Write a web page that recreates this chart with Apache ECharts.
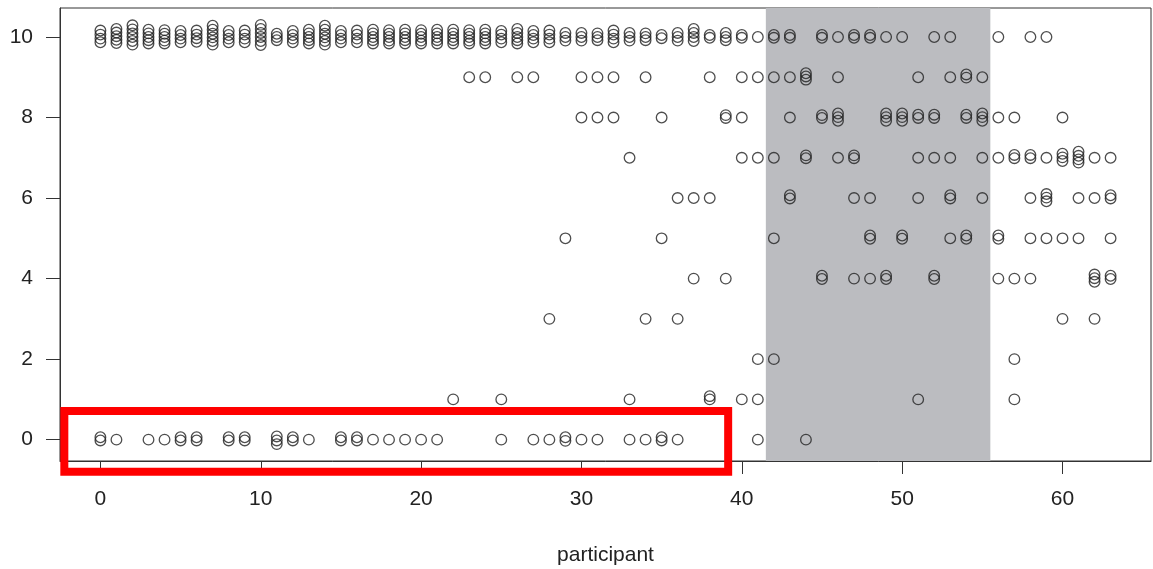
<!DOCTYPE html>
<html>
<head>
<meta charset="utf-8">
<script src="https://cdn.jsdelivr.net/npm/echarts@6/dist/echarts.min.js"></script>
<style>
html,body{margin:0;padding:0;background:#fff;}
#c{width:1153px;height:569px;}
</style>
</head>
<body>
<div id="c"></div>
<script>
// ---- data ----
const xTicks = [0, 10, 20, 30, 40, 50, 60];
const yTicks = [0, 2, 4, 6, 8, 10];
const xLabel = 'participant';
const participants = [0,1,2,3,4,5,6,7,8,9,10,11,12,13,14,15,16,17,18,19,20,21,22,23,24,25,26,27,28,29,30,31,
  32,33,34,35,36,37,38,39,40,41,42,43,44,45,46,47,48,49,50,51,52,53,54,55,56,57,58,59,60,61,62,63];
// jittered responses per participant (six each)
const responses = [
  [0.06, -0.02, 10.16, 10.06, 9.96, 9.87],
  [0.0, 10.2, 10.11, 10.02, 9.93, 9.85],
  [10.29, 10.19, 10.09, 10.0, 9.9, 9.81],
  [0.0, 10.18, 10.09, 10.0, 9.92, 9.84],
  [0.0, 10.17, 10.08, 10.0, 9.91, 9.84],
  [0.06, -0.02, 10.15, 10.05, 9.96, 9.87],
  [0.06, -0.02, 10.16, 10.06, 9.97, 9.88],
  [10.28, 10.18, 10.08, 9.99, 9.9, 9.81],
  [0.06, -0.02, 10.15, 10.05, 9.96, 9.87],
  [0.06, -0.02, 10.16, 10.06, 9.96, 9.87],
  [10.3, 10.2, 10.1, 10.0, 9.9, 9.8],
  [0.08, -0.02, -0.11, 10.08, 10.0, 9.92],
  [0.06, -0.02, 10.15, 10.05, 9.96, 9.87],
  [0.0, 10.18, 10.09, 10.0, 9.92, 9.84],
  [10.28, 10.18, 10.08, 9.99, 9.9, 9.81],
  [0.06, -0.02, 10.15, 10.05, 9.96, 9.87],
  [0.06, -0.02, 10.16, 10.06, 9.96, 9.87],
  [0.0, 10.18, 10.09, 10.0, 9.92, 9.84],
  [0.0, 10.17, 10.08, 10.0, 9.91, 9.84],
  [0.0, 10.18, 10.09, 10.0, 9.92, 9.84],
  [0.0, 10.17, 10.08, 10.0, 9.91, 9.84],
  [0.0, 10.18, 10.09, 10.0, 9.92, 9.84],
  [1.0, 10.18, 10.09, 10.0, 9.92, 9.84],
  [9.0, 10.17, 10.08, 10.0, 9.91, 9.84],
  [9.0, 10.18, 10.09, 10.0, 9.92, 9.84],
  [1.0, 0.0, 10.15, 10.06, 9.96, 9.87],
  [9.0, 10.2, 10.1, 10.0, 9.92, 9.84],
  [9.0, 0.0, 10.15, 10.05, 9.96, 9.87],
  [3.0, 0.0, 10.16, 10.06, 9.96, 9.87],
  [5.0, 0.06, -0.03, 10.1, 10.0, 9.91],
  [9.0, 8.0, 0.0, 10.1, 10.0, 9.91],
  [9.0, 8.0, 0.0, 10.09, 10.0, 9.92],
  [9.0, 8.0, 10.16, 10.06, 9.96, 9.87],
  [7.0, 1.0, 0.0, 10.1, 10.0, 9.91],
  [9.0, 3.0, 0.0, 10.09, 10.0, 9.92],
  [8.0, 5.0, 0.06, -0.02, 10.05, 9.97],
  [6.0, 3.0, 0.0, 10.1, 10.0, 9.91],
  [6.0, 4.0, 10.2, 10.1, 10.0, 9.9],
  [9.0, 6.0, 1.08, 1.0, 10.05, 9.98],
  [8.06, 7.99, 4.0, 10.1, 10.0, 9.92],
  [9.0, 8.0, 7.0, 1.0, 10.05, 9.98],
  [9.0, 7.0, 2.0, 1.0, 0.0, 10.0],
  [9.0, 7.0, 5.0, 2.0, 10.05, 9.98],
  [9.0, 8.0, 6.07, 5.99, 10.05, 9.98],
  [9.1, 9.02, 8.94, 7.06, 6.99, 0.0],
  [8.06, 7.99, 4.07, 3.99, 10.05, 9.98],
  [9.0, 8.1, 8.01, 7.92, 7.0, 10.0],
  [7.06, 6.99, 6.0, 4.0, 10.05, 9.98],
  [6.0, 5.07, 4.99, 4.0, 10.05, 9.98],
  [8.1, 8.01, 7.92, 4.07, 3.99, 10.0],
  [8.1, 8.01, 7.92, 5.07, 4.99, 10.0],
  [9.0, 8.07, 7.99, 7.0, 6.0, 1.0],
  [8.07, 7.99, 7.0, 4.07, 3.99, 10.0],
  [9.0, 7.0, 6.07, 5.99, 5.0, 10.0],
  [9.07, 8.99, 8.07, 7.99, 5.07, 4.99],
  [9.0, 8.1, 8.01, 7.92, 7.0, 6.0],
  [8.0, 7.0, 5.07, 4.99, 4.0, 10.0],
  [8.0, 7.07, 6.99, 4.0, 2.0, 1.0],
  [7.07, 6.99, 6.0, 5.0, 4.0, 10.0],
  [7.0, 6.1, 6.01, 5.92, 5.0, 10.0],
  [8.0, 7.1, 7.01, 6.92, 5.0, 3.0],
  [7.15, 7.05, 6.96, 6.88, 6.0, 5.0],
  [7.0, 6.0, 4.1, 4.01, 3.92, 3.0],
  [7.0, 6.07, 5.99, 5.0, 4.07, 3.99]
];
// shaded participant range
const shadedRange = [41.5, 55.5];
// highlighted region: [xLeft, yBottom, xRight, yTop]
const highlightBox = [-2.25, -0.8, 39.15, 0.71];
// axis limits
const xLimits = [-2.52, 65.52];
const yLimits = [-0.53, 10.72];

// ---- chart ----
const points = [];
participants.forEach((p, i) => responses[i].forEach(v => points.push([p, v])));

const FONT = 'Liberation Sans, Arial, Helvetica, sans-serif';
const INK = '#222';
const chart = echarts.init(document.getElementById('c'), null, {renderer: 'canvas'});
chart.setOption({
  animation: false,
  grid: {left: 60, right: 2, top: 8, bottom: 108, outerBoundsMode: 'none', containLabel: false,
    show: true, borderColor: '#333', borderWidth: 1, backgroundColor: 'transparent'},
  xAxis: {
    type: 'value', min: xLimits[0], max: xLimits[1],
    name: xLabel, nameLocation: 'middle', nameGap: 84,
    nameTextStyle: {fontSize: 21, color: INK, fontFamily: FONT},
    axisLine: {show: true, onZero: false, lineStyle: {color: '#333', width: 1}},
    axisTick: {show: true, length: 13, customValues: xTicks, lineStyle: {color: '#333', width: 1}},
    axisLabel: {customValues: xTicks, margin: 28, fontSize: 21, color: INK, fontFamily: FONT},
    splitLine: {show: false}
  },
  yAxis: {
    type: 'value', min: yLimits[0], max: yLimits[1],
    axisLine: {show: true, onZero: false, lineStyle: {color: '#333', width: 1}},
    axisTick: {show: true, length: 14, customValues: yTicks, lineStyle: {color: '#333', width: 1}},
    axisLabel: {customValues: yTicks, margin: 27, fontSize: 21, color: INK, fontFamily: FONT},
    splitLine: {show: false}
  },
  series: [
    {
      type: 'scatter', data: [], z: -1, silent: true,
      markArea: {silent: true, itemStyle: {color: '#BBBCC0'},
        data: [[{xAxis: shadedRange[0]}, {xAxis: shadedRange[1]}]]}
    },
    {
      type: 'scatter', data: points, symbol: 'circle', symbolSize: 10.6, z: 3, silent: true,
      itemStyle: {color: 'rgba(0,0,0,0)', borderColor: INK, borderWidth: 1.3}
    },
    {
      type: 'custom', z: 5, clip: false, silent: true,
      data: [highlightBox],
      encode: {x: [0, 2], y: [1, 3]},
      renderItem: function (params, api) {
        const a = api.coord([api.value(0), api.value(3)]);
        const b = api.coord([api.value(2), api.value(1)]);
        return {type: 'rect', shape: {x: a[0], y: a[1], width: b[0] - a[0], height: b[1] - a[1]},
          style: {fill: 'none', stroke: '#ff0000', lineWidth: 8, lineJoin: 'miter'}};
      }
    }
  ]
});
</script>
</body>
</html>
